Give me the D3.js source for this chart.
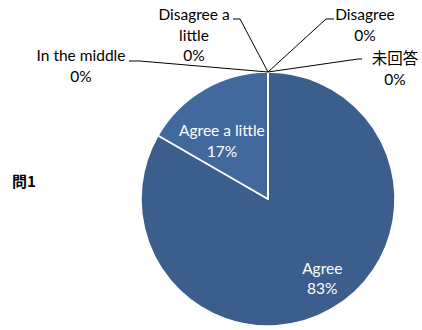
<!DOCTYPE html>
<html><head><meta charset="utf-8">
<script src="https://cdn.jsdelivr.net/npm/d3@7"></script>
<style>html,body{margin:0;padding:0;background:#fff;}svg{display:block;}</style>
</head><body>
<svg id="c" width="422" height="330"></svg>
<script>
const categories = ["Agree", "Agree a little", "In the middle", "Disagree a little", "Disagree", "未回答"];
const counts = [5, 1, 0, 0, 0, 0];
const percentLabels = ["83%", "17%", "0%", "0%", "0%", "0%"];
const labelLines = [["Agree"], ["Agree a little"], ["In the middle"], ["Disagree a", "little"], ["Disagree"], ["未回答"]];
const colors = ["#3b5e8c", "#41699d", "#4a76ad", "#5a86bd", "#6a94c8", "#7aa2d0"];
const title = "問1";

const W = 422, H = 330;
const cx = 268, cy = 199, R = 127;
const font = "Lato, 'Noto Sans CJK JP', sans-serif";
const fs = 15.5, lh = 20.5;

// label layout (positions for each category label block: center x, first baseline y)
const outsideLayout = {
  2: {x: 81, y: 61, line: [[129, 61], [140, 61]]},
  3: {x: 194, y: 20, line: [[233, 19], [240, 19]]},
  4: {x: 365, y: 20, line: [[334, 19], [326, 19]]},
  5: {x: 395, y: 64, line: [[362, 59], [358, 59]]}
};
const insideOffset = {0: [6, -4], 1: [-8, 8]};
const insideRadius = {0: 0.76, 1: 0.6};

const svg = d3.select("#c");
const g = svg.append("g").attr("transform", `translate(${cx},${cy})`);

const pie = d3.pie().sort(null).value(d => d)(counts);
const arc = d3.arc().innerRadius(0).outerRadius(R);

g.selectAll("path.slice").data(pie).enter().append("path")
  .attr("class", "slice")
  .attr("d", arc)
  .attr("fill", (d, i) => colors[i])
  .attr("stroke", "#fff")
  .attr("stroke-width", 1.5)
  .attr("stroke-linejoin", "round");

pie.forEach((d, i) => {
  const lines = labelLines[i].concat([percentLabels[i]]);
  if (d.value > 0) {
    const mid = (d.startAngle + d.endAngle) / 2;
    const rr = R * insideRadius[i];
    const x = Math.sin(mid) * rr + insideOffset[i][0];
    const y = -Math.cos(mid) * rr + insideOffset[i][1];
    const t = g.append("text").attr("text-anchor", "middle")
      .attr("font-family", font).attr("font-size", fs).attr("fill", "#fff");
    const y0 = y - (lines.length - 1) * lh / 2 + fs * 0.35;
    lines.forEach((s, k) => t.append("tspan").attr("x", x).attr("y", y0 + k * lh).text(s));
  } else {
    const L = outsideLayout[i];
    const a = d.startAngle;
    const px = cx + Math.sin(a) * R, py = cy - Math.cos(a) * R;
    svg.append("polyline")
      .attr("points", [L.line[0], L.line[1], [px, py]].map(p => p.join(",")).join(" "))
      .attr("fill", "none").attr("stroke", "#000").attr("stroke-width", 1);
    const t = svg.append("text").attr("text-anchor", "middle")
      .attr("font-family", font).attr("font-size", fs).attr("fill", "#000");
    lines.forEach((s, k) => t.append("tspan").attr("x", L.x).attr("y", L.y + k * lh).text(s));
  }
});

svg.append("text").attr("x", 12).attr("y", 187)
  .attr("font-family", "'Noto Sans CJK JP', sans-serif").attr("font-weight", "bold")
  .attr("font-size", 15).attr("fill", "#000").text(title);
</script>
</body></html>
